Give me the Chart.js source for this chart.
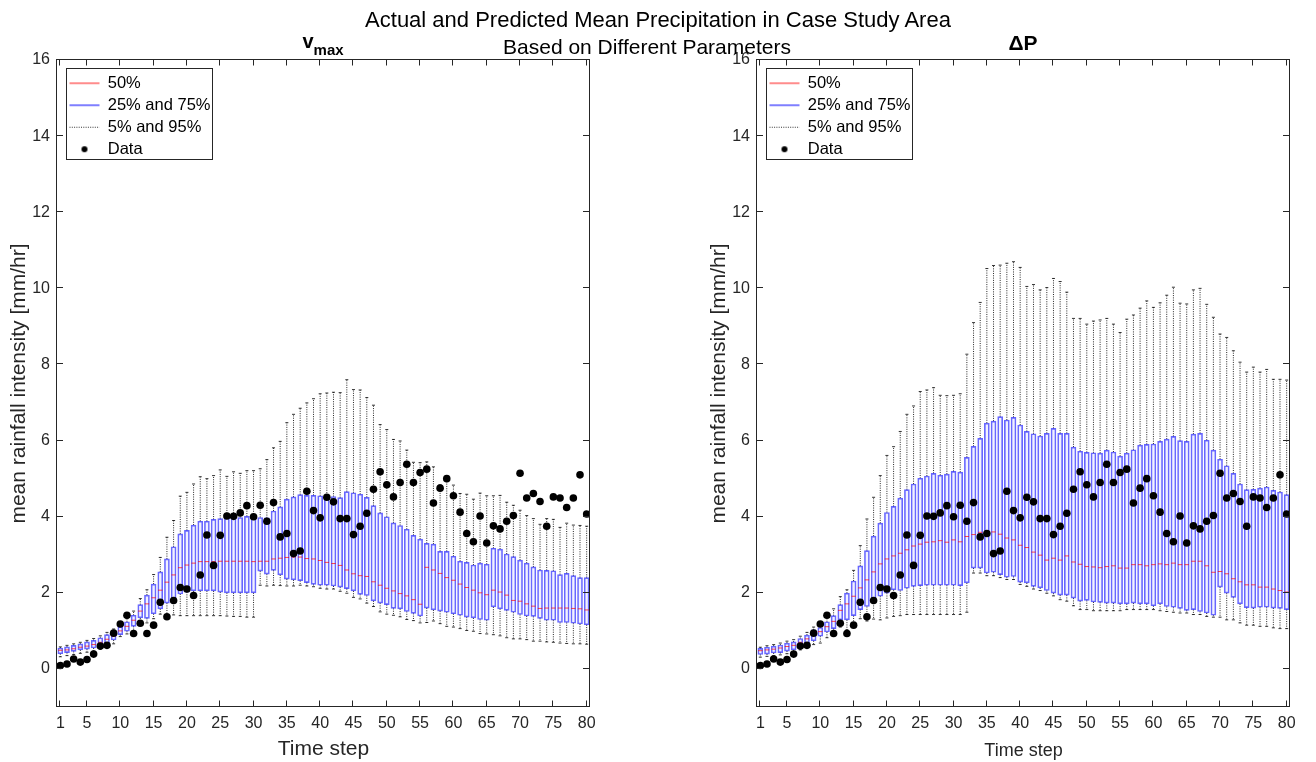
<!DOCTYPE html>
<html>
<head>
<meta charset="utf-8">
<script src="https://cdn.jsdelivr.net/npm/chart.js@4.4.1/dist/chart.umd.min.js"></script>
<style>
  html, body { margin: 0; padding: 0; background: #fff; width: 1316px; height: 762px; overflow: hidden; }
  #wrap { position: relative; width: 1316px; height: 762px; font-family: "Liberation Sans", Arial, Helvetica, sans-serif; }
  canvas { position: absolute; top: 0; }
  #cL { left: 0; }
  #cR { left: 700px; }
  .t { position: absolute; white-space: nowrap; color: #000; transform: translate(-50%, -50%); line-height: 1; }
  .t sub { font-size: 15px; vertical-align: -0.45em; line-height: 0; }
</style>
</head>
<body>
<div id="wrap">
  <canvas id="cL" width="658" height="762"></canvas>
  <canvas id="cR" width="616" height="762"></canvas>
  <div class="t" style="left:658px; top:20px; font-size:22px;">Actual and Predicted Mean Precipitation in Case Study Area</div>
  <div class="t" style="left:647px; top:46px; font-size:21px;">Based on Different Parameters</div>
  <div class="t" style="left:323px; top:41px; font-size:20px; font-weight:bold;">v<sub>max</sub></div>
  <div class="t" style="left:1023px; top:42px; font-size:21px; font-weight:bold;">ΔP</div>
</div>
<script>
// Time steps (x categories) and axis tick labels
const steps = [1,2,3,4,5,6,7,8,9,10,11,12,13,14,15,16,17,18,19,20,
  21,22,23,24,25,26,27,28,29,30,31,32,33,34,35,36,37,38,39,40,
  41,42,43,44,45,46,47,48,49,50,51,52,53,54,55,56,57,58,59,60,
  61,62,63,64,65,66,67,68,69,70,71,72,73,74,75,76,77,78,79,80];
const xTickValues = [1,5,10,15,20,25,30,35,40,45,50,55,60,65,70,75,80];
const yTickValues = [0,2,4,6,8,10,12,14,16];

// Observed mean rainfall intensity [mm/hr]
const observed = [0.09,0.13,0.26,0.18,0.25,0.39,0.60,0.62,0.94,1.18,
  1.41,0.93,1.20,0.93,1.15,1.75,1.37,1.80,2.14,2.10,
  1.93,2.47,3.52,2.72,3.51,4.02,4.01,4.10,4.29,4.00,
  4.30,3.88,4.37,3.47,3.56,3.03,3.10,4.67,4.16,3.97,
  4.51,4.39,3.95,3.95,3.53,3.75,4.09,4.72,5.18,4.84,
  4.52,4.90,5.38,4.90,5.16,5.25,4.36,4.75,5.00,4.55,
  4.12,3.56,3.34,4.02,3.31,3.76,3.68,3.88,4.03,5.14,
  4.49,4.61,4.40,3.75,4.52,4.49,4.24,4.49,5.10,4.07];

// Predicted percentiles, parameter v_max
const vmaxQ05 = [0.32,0.35,0.38,0.41,0.44,0.47,0.52,0.58,0.66,0.85,
  0.92,0.98,1.21,1.21,1.32,1.44,1.40,1.42,1.40,1.40,
  1.40,1.40,1.40,1.40,1.40,1.39,1.38,1.38,1.36,1.36,
  2.20,2.18,2.20,2.19,2.18,2.18,2.20,2.18,2.16,2.12,
  2.10,2.10,2.04,1.99,1.88,1.84,1.73,1.64,1.50,1.44,
  1.41,1.37,1.30,1.27,1.21,1.22,1.26,1.19,1.12,1.10,
  1.06,1.01,0.99,0.93,0.92,0.90,0.87,0.82,0.79,0.79,
  0.77,0.73,0.73,0.71,0.70,0.68,0.67,0.66,0.66,0.65];
const vmaxQ25 = [0.40,0.43,0.46,0.50,0.52,0.55,0.60,0.67,0.76,0.90,
  0.99,1.12,1.34,1.33,1.45,1.58,1.73,1.73,1.97,2.02,
  2.05,2.05,2.05,2.05,2.02,2.00,2.00,2.00,2.00,2.00,
  2.57,2.49,2.59,2.47,2.36,2.34,2.32,2.27,2.22,2.20,
  2.20,2.18,2.15,2.11,2.05,1.96,1.93,1.79,1.73,1.69,
  1.59,1.58,1.51,1.46,1.39,1.60,1.55,1.52,1.49,1.45,
  1.41,1.36,1.34,1.30,1.28,1.63,1.58,1.54,1.49,1.43,
  1.39,1.38,1.33,1.28,1.28,1.22,1.22,1.20,1.18,1.16];
const vmaxQ50 = [0.49,0.50,0.53,0.57,0.60,0.64,0.70,0.78,0.86,1.00,
  1.12,1.28,1.52,1.71,1.87,2.07,2.28,2.47,2.66,2.73,
  2.78,2.82,2.82,2.82,2.83,2.83,2.83,2.83,2.83,2.82,
  2.83,2.83,2.89,2.91,2.93,2.94,2.94,2.90,2.89,2.85,
  2.80,2.77,2.72,2.60,2.50,2.45,2.43,2.29,2.20,2.12,
  2.05,1.98,1.92,1.82,1.70,2.67,2.60,2.51,2.40,2.33,
  2.23,2.14,2.07,2.00,1.95,2.07,2.02,1.94,1.80,1.78,
  1.71,1.65,1.59,1.60,1.60,1.60,1.60,1.59,1.58,1.55];
const vmaxQ75 = [0.55,0.58,0.62,0.66,0.71,0.75,0.82,0.90,0.98,1.11,
  1.24,1.41,1.69,1.94,2.23,2.55,2.89,3.21,3.55,3.64,
  3.78,3.88,3.88,3.93,3.95,3.97,3.98,3.98,4.01,4.01,
  3.98,3.97,4.15,4.26,4.46,4.52,4.58,4.56,4.56,4.55,
  4.56,4.53,4.50,4.66,4.63,4.59,4.51,4.29,4.10,4.00,
  3.84,3.77,3.67,3.51,3.41,3.30,3.28,3.09,3.09,2.96,
  2.83,2.80,2.73,2.78,2.75,3.17,3.15,3.02,2.95,2.86,
  2.78,2.68,2.60,2.59,2.58,2.48,2.51,2.45,2.40,2.40];
const vmaxQ95 = [0.58,0.62,0.66,0.70,0.75,0.80,0.87,0.96,1.05,1.17,
  1.32,1.52,1.85,2.08,2.48,2.93,3.46,3.90,4.54,4.64,
  4.86,5.05,5.00,5.08,5.23,5.06,5.18,5.14,5.21,5.21,
  5.26,5.50,5.81,5.98,6.47,6.69,6.85,6.99,7.10,7.23,
  7.25,7.27,7.26,7.60,7.34,7.33,7.13,6.93,6.42,6.29,
  6.03,5.99,5.75,5.43,5.42,5.44,5.31,4.84,4.99,4.83,
  4.61,4.59,4.46,4.62,4.55,4.55,4.56,4.38,4.30,4.17,
  4.03,3.95,3.80,3.95,3.93,3.72,3.83,3.78,3.77,3.75];

// Predicted percentiles, parameter ΔP
const dpQ05 = [0.31,0.33,0.35,0.37,0.40,0.43,0.50,0.57,0.64,0.68,
  0.82,0.92,1.10,1.03,1.15,1.32,1.26,1.31,1.29,1.34,
  1.38,1.40,1.43,1.43,1.43,1.43,1.43,1.43,1.43,1.43,
  1.43,1.49,2.52,2.52,2.45,2.45,2.40,2.35,2.35,2.22,
  2.17,2.10,2.06,1.99,1.92,1.82,1.78,1.66,1.56,1.56,
  1.53,1.53,1.53,1.53,1.53,1.56,1.56,1.56,1.56,1.56,
  1.53,1.51,1.49,1.47,1.47,1.43,1.43,1.38,1.36,1.36,
  1.29,1.29,1.21,1.15,1.15,1.12,1.12,1.08,1.06,1.06];
const dpQ25 = [0.38,0.39,0.42,0.43,0.47,0.50,0.59,0.66,0.74,0.86,
  0.97,1.06,1.29,1.29,1.40,1.56,1.64,1.79,1.91,1.99,
  2.08,2.06,2.12,2.17,2.19,2.20,2.20,2.20,2.20,2.20,
  2.19,2.26,2.65,2.65,2.52,2.54,2.48,2.41,2.43,2.28,
  2.26,2.17,2.13,2.06,1.99,1.94,1.94,1.86,1.78,1.80,
  1.76,1.75,1.73,1.73,1.71,1.71,1.73,1.71,1.71,1.66,
  1.71,1.64,1.62,1.59,1.54,1.56,1.51,1.47,1.41,2.15,
  1.99,1.88,1.71,1.61,1.60,1.62,1.62,1.60,1.59,1.56];
const dpQ50 = [0.48,0.50,0.52,0.55,0.59,0.62,0.70,0.79,0.90,0.98,
  1.11,1.25,1.54,1.71,1.91,2.13,2.34,2.55,2.76,2.89,
  2.97,3.04,3.13,3.23,3.28,3.33,3.34,3.37,3.33,3.39,
  3.34,3.48,3.53,3.59,3.59,3.60,3.54,3.44,3.39,3.25,
  3.19,3.07,2.99,2.86,2.91,2.86,2.97,2.81,2.75,2.69,
  2.68,2.66,2.69,2.71,2.65,2.65,2.74,2.74,2.71,2.74,
  2.76,2.74,2.78,2.74,2.74,2.83,2.83,2.71,2.54,2.56,
  2.50,2.37,2.29,2.21,2.21,2.15,2.15,2.10,2.06,2.02];
const dpQ75 = [0.54,0.57,0.60,0.63,0.68,0.71,0.80,0.89,1.03,1.09,
  1.24,1.40,1.69,1.99,2.31,2.71,3.11,3.49,3.83,4.11,
  4.27,4.49,4.71,4.86,5.01,5.07,5.14,5.09,5.12,5.19,
  5.17,5.56,5.85,6.06,6.46,6.51,6.63,6.54,6.61,6.41,
  6.24,6.18,6.12,6.19,6.32,6.19,6.19,5.83,5.72,5.69,
  5.68,5.67,5.75,5.70,5.59,5.67,5.76,5.88,5.90,5.91,
  5.98,6.04,6.11,6.00,5.98,6.17,6.19,6.01,5.75,5.51,
  5.34,5.14,4.86,4.71,4.72,4.75,4.78,4.69,4.65,4.58];
const dpQ95 = [0.57,0.61,0.64,0.68,0.73,0.77,0.86,0.96,1.10,1.21,
  1.36,1.58,1.90,2.08,2.59,3.24,3.94,4.51,5.08,5.61,
  5.84,6.24,6.69,6.91,7.29,7.33,7.39,7.19,7.18,7.19,
  7.23,8.27,9.10,9.63,10.52,10.60,10.61,10.66,10.70,10.55,
  10.05,10.10,9.96,10.02,10.26,10.18,9.90,9.21,9.21,9.06,
  9.14,9.17,9.21,9.06,8.84,9.19,9.30,9.48,9.67,9.50,
  9.62,9.82,10.03,9.61,9.59,9.96,10.00,9.58,9.24,8.80,
  8.71,8.36,8.06,7.80,7.93,7.80,7.87,7.61,7.61,7.59];

const FONT = '"Liberation Sans", Arial, Helvetica, sans-serif';
const AXIS_COLOR = '#262626';

// Small filled dot used as the legend marker for the observations
const dotMarker = document.createElement('canvas');
dotMarker.width = 8; dotMarker.height = 8;
(function () {
  const c = dotMarker.getContext('2d');
  c.fillStyle = '#000';
  c.beginPath(); c.arc(4, 4, 3, 0, Math.PI * 2); c.fill();
})();

// Axes box, inward tick marks and the legend frame
const axesFrame = {
  id: 'axesFrame',
  afterLayout(chart) {
    const lg = chart.legend, ca = chart.chartArea;
    if (!lg) return;
    const w = lg.width, h = lg.height;
    lg.left = ca.left + 7; lg.top = ca.top + 9.5;
    lg.right = lg.left + w; lg.bottom = lg.top + h;
  },
  afterDraw(chart) {
    const { ctx, chartArea: ca, scales: { x, y } } = chart;
    ctx.save();
    ctx.strokeStyle = AXIS_COLOR;
    ctx.lineWidth = 1;
    ctx.setLineDash([]);
    const L = ca.left - 0.5, R = ca.right - 0.5, T = ca.top - 0.5, B = ca.bottom - 0.5;
    ctx.strokeRect(L, T, R - L, B - T);
    ctx.beginPath();
    x.ticks.forEach(t => {
      const px = Math.round(x.getPixelForValue(t.value)) - 0.5;
      ctx.moveTo(px, B); ctx.lineTo(px, B - 6);
      ctx.moveTo(px, T); ctx.lineTo(px, T + 6);
    });
    y.ticks.forEach(t => {
      const py = Math.round(y.getPixelForValue(t.value)) - 0.5;
      ctx.moveTo(L, py); ctx.lineTo(L + 6.5, py);
      ctx.moveTo(R, py); ctx.lineTo(R - 6.5, py);
    });
    ctx.stroke();
    const hb = chart.legend && chart.legend.legendHitBoxes;
    if (hb && hb.length) {
      const l = Math.min(...hb.map(h => h.left)) - 3.5;
      const t = hb[0].top - 7.5;
      const r = Math.max(...hb.map(h => h.left + h.width)) + 2;
      const last = hb[hb.length - 1];
      const b = last.top + last.height + 1;
      ctx.strokeRect(Math.round(l) + 0.5, Math.round(t) + 0.5, Math.round(r - l), Math.round(b - t));
    }
    ctx.restore();
  }
};

function buildPanel(canvasId, q05, q25, q50, q75, q95, pad, xTitleSize) {
  const whiskers = [];
  const caps = [];
  steps.forEach((s, i) => {
    whiskers.push({ x: s, y: q75[i] }, { x: s, y: q95[i] }, { x: s, y: null },
                  { x: s, y: q25[i] }, { x: s, y: q05[i] }, { x: s, y: null });
    caps.push({ x: s, y: q05[i] }, { x: s, y: q95[i] });
  });
  const boxes = steps.map((s, i) => ({ x: s, y: [q25[i], q75[i]] }));
  const medians = steps.map((s, i) => ({ x: s, y: q50[i] }));
  const points = steps.map((s, i) => ({ x: s, y: observed[i] }));

  return new Chart(document.getElementById(canvasId), {
    type: 'scatter',
    data: {
      datasets: [
        { type: 'scatter', label: 'Data', data: points, pointRadius: 3.8,
          pointBackgroundColor: '#000', pointBorderWidth: 0 },
        { type: 'scatter', label: '50%', data: medians, pointStyle: 'line', pointRadius: 2.2,
          pointBorderColor: 'rgba(255,0,0,0.7)', pointBorderWidth: 1 },
        { type: 'scatter', label: 'caps', data: caps, pointStyle: 'line', pointRadius: 1.5,
          pointBorderColor: 'rgba(0,0,0,0.8)', pointBorderWidth: 1 },
        { type: 'bar', label: '25% and 75%', data: boxes, barThickness: 5,
          borderColor: 'rgba(0,0,255,0.6)', backgroundColor: 'rgba(140,140,255,0.12)',
          borderWidth: 1, borderSkipped: false },
        { type: 'line', label: '5% and 95%', data: whiskers, borderColor: 'rgba(0,0,0,0.85)',
          borderWidth: 1, borderDash: [1, 1.3], pointRadius: 0, spanGaps: false, fill: false }
      ]
    },
    options: {
      responsive: false,
      animation: false,
      devicePixelRatio: 1,
      events: [],
      layout: { padding: pad },
      scales: {
        x: {
          type: 'linear', min: 0.5, max: 80.5, offset: false,
          afterBuildTicks: s => { s.ticks = xTickValues.map(v => ({ value: v })); },
          afterFit: s => { s.height = 55; },
          grid: { display: false, drawTicks: false },
          border: { display: false },
          ticks: { font: { size: 16, family: FONT }, color: AXIS_COLOR, padding: 7,
                   maxRotation: 0, autoSkip: false, callback: v => String(v) },
          title: { display: true, text: 'Time step', color: AXIS_COLOR,
                   font: { size: xTitleSize, family: FONT }, padding: { top: 0, bottom: 0 } }
        },
        y: {
          type: 'linear', min: -1, max: 16,
          afterBuildTicks: s => { s.ticks = yTickValues.map(v => ({ value: v })); },
          afterFit: s => { s.width = 50; },
          grid: { display: false, drawTicks: false },
          border: { display: false },
          ticks: { font: { size: 16, family: FONT }, color: AXIS_COLOR, padding: 7,
                   callback: v => String(v) },
          title: { display: true, text: 'mean rainfall intensity [mm/hr]', color: AXIS_COLOR,
                   font: { size: 21, family: FONT }, padding: { top: 0, bottom: 0 } }
        }
      },
      plugins: {
        tooltip: { enabled: false },
        legend: {
          position: 'chartArea',
          align: 'start',
          labels: {
            usePointStyle: true,
            pointStyleWidth: 30,
            padding: 5.5,
            color: '#000',
            font: { size: 16.5, family: FONT },
            generateLabels: () => [
              { text: '50%', pointStyle: 'line', strokeStyle: 'rgba(255,0,0,0.45)',
                fillStyle: 'rgba(0,0,0,0)', lineWidth: 2, datasetIndex: 1, hidden: false },
              { text: '25% and 75%', pointStyle: 'line', strokeStyle: 'rgba(0,0,255,0.5)',
                fillStyle: 'rgba(0,0,0,0)', lineWidth: 2, datasetIndex: 3, hidden: false },
              { text: '5% and 95%', pointStyle: 'line', strokeStyle: 'rgba(0,0,0,0.8)',
                fillStyle: 'rgba(0,0,0,0)', lineWidth: 1, lineDash: [1, 1.3], datasetIndex: 4, hidden: false },
              { text: 'Data', pointStyle: dotMarker, strokeStyle: '#000',
                fillStyle: '#000', lineWidth: 0, datasetIndex: 0, hidden: false }
            ]
          }
        }
      }
    },
    plugins: [axesFrame]
  });
}

buildPanel('cL', vmaxQ05, vmaxQ25, vmaxQ50, vmaxQ75, vmaxQ95,
           { left: 7, top: 60, right: 68, bottom: 0 }, 21);
buildPanel('cR', dpQ05, dpQ25, dpQ50, dpQ75, dpQ95,
           { left: 7, top: 60, right: 26, bottom: 0 }, 18);
</script>
</body>
</html>
